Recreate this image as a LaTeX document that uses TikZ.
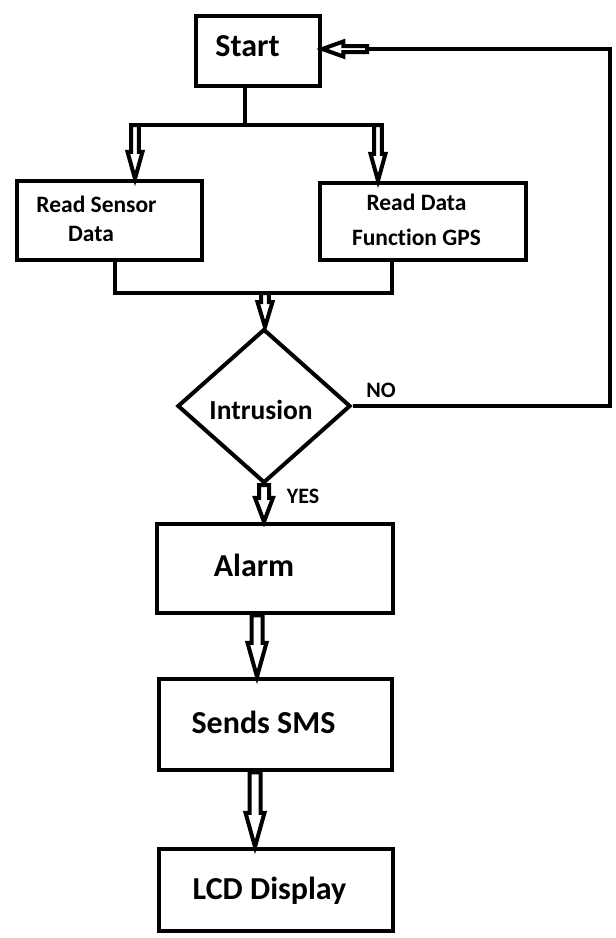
\documentclass[tikz,border=0pt]{standalone}
\usepackage{fontspec}
\setmainfont[Ligatures=NoCommon]{Carlito}
\usetikzlibrary{shapes.geometric,calc}
% hollow down arrow: #1 start (top), #2 tip, #3 shaft half width, #4 head half width, #5 head length
\newcommand\hollowv[5]{\draw[harrow] let \p1=#1, \p2=#2 in
  (\x1-#3,\y1) -- (\x1-#3,\y2+#5) -- (\x1-#4,\y2+#5) -- (\x1,\y2) -- (\x1+#4,\y2+#5) -- (\x1+#3,\y2+#5) -- (\x1+#3,\y1) -- cycle;}
% hollow left arrow
\newcommand\hollowl[5]{\draw[harrow] let \p1=#1, \p2=#2 in
  (\x1,\y1-#3) -- (\x2+#5,\y1-#3) -- (\x2+#5,\y1-#4) -- (\x2,\y1) -- (\x2+#5,\y1+#4) -- (\x2+#5,\y1+#3) -- (\x1,\y1+#3) -- cycle;}
\begin{document}
\begin{tikzpicture}[x=1pt,y=-1pt,
  box/.style={draw, line width=4.5pt, inner sep=0pt, rectangle},
  dec/.style={draw, diamond, line width=4pt, inner sep=0pt},
  conn/.style={draw, line width=4pt, line join=miter},
  harrow/.style={draw, fill=white, line width=4pt, line join=miter},
  big/.style={anchor=base, inner sep=0pt, font=\bfseries\fontsize{32}{36}\selectfont},
  mid/.style={anchor=base, inner sep=0pt, font=\bfseries\fontsize{27.5}{32}\selectfont},
  small/.style={anchor=base, inner sep=0pt, font=\bfseries\fontsize{23.5}{28}\selectfont},
  tiny/.style={anchor=base, inner sep=0pt, font=\bfseries\fontsize{22}{26}\selectfont}]
\fill[white] (0,0) rectangle (616,938);
\useasboundingbox (0,0) rectangle (616,938);

% boxes
\node[box, minimum width=124pt, minimum height=70pt] (start) at (258,51) {};
\node[box, minimum width=185pt, minimum height=79pt] (sensor) at (109.5,220.5) {};
\node[box, minimum width=206pt, minimum height=77pt] (gps) at (423,221.5) {};
\node[dec, minimum width=173pt, minimum height=154pt] (dia) at (264,406) {};
\node[box, minimum width=236pt, minimum height=89pt] (alarm) at (275,568.5) {};
\node[box, minimum width=233pt, minimum height=91pt] (sms) at (275.5,724.5) {};
\node[box, minimum width=234pt, minimum height=82pt] (lcd) at (276,890) {};

% texts
\node[big] (tstart) at (247.5,56.5) {Start};
\node[small] (tsensor1) at (96.5,212) {Read Sensor};
\node[small] (tsensor2) at (91,241) {Data};
\node[small] (tgps1) at (416.5,210) {Read Data};
\node[small] (tgps2) at (416.5,245) {Function GPS};
\node[mid] (tdia) at (261,419) {Intrusion};
\node[tiny] (tno) at (381,397) {NO};
\node[tiny] (tyes) at (303,503) {YES};
\node[big] (talarm) at (254,576) {Alarm};
\node[big] (tsms) at (263.5,733) {Sends SMS};
\node[big] (tlcd) at (269.5,899) {LCD Display};

% fork below Start
\coordinate (fork) at (245,125);
\coordinate (al) at (135,125);
\coordinate (ar) at (378,125);
\draw[conn] (start.south -| fork) -- (fork);
\draw[conn] ($(al)+(-5.5,0)$) -- ($(ar)+(5.5,0)$);
\hollowv{(al)}{(sensor.north -| al)}{3.8pt}{7.5pt}{27pt}
\hollowv{(ar)}{(gps.north -| ar)}{3.8pt}{7.5pt}{27pt}

% merge to decision
\coordinate (ml) at (115,293);
\coordinate (mr) at (392,293);
\coordinate (mm) at (265,293);
\draw[conn] (sensor.south -| ml) -- (ml) -- (mr) -- (gps.south -| mr);
\hollowv{(mm)}{(dia.north)}{3.8pt}{7.5pt}{25pt}

% NO loop back to Start
\coordinate (rt) at (610,49);
\coordinate (ret) at (367,49);
\draw[conn] (dia.east) -- (dia.east -| rt) -- (rt) -- (ret);
\hollowl{(ret)}{(start.east |- ret)}{3pt}{7.5pt}{21pt}

% YES and down chain
\coordinate (c1) at (257,0);
\coordinate (c2) at (255,0);
\hollowv{(dia.south)}{(alarm.north -| dia.south)}{5pt}{9pt}{24pt}
\hollowv{(alarm.south -| c1)}{(sms.north -| c1)}{5.5pt}{9.5pt}{34pt}
\hollowv{(sms.south -| c2)}{(lcd.north -| c2)}{5.5pt}{9.5pt}{34pt}
\end{tikzpicture}
\end{document}
